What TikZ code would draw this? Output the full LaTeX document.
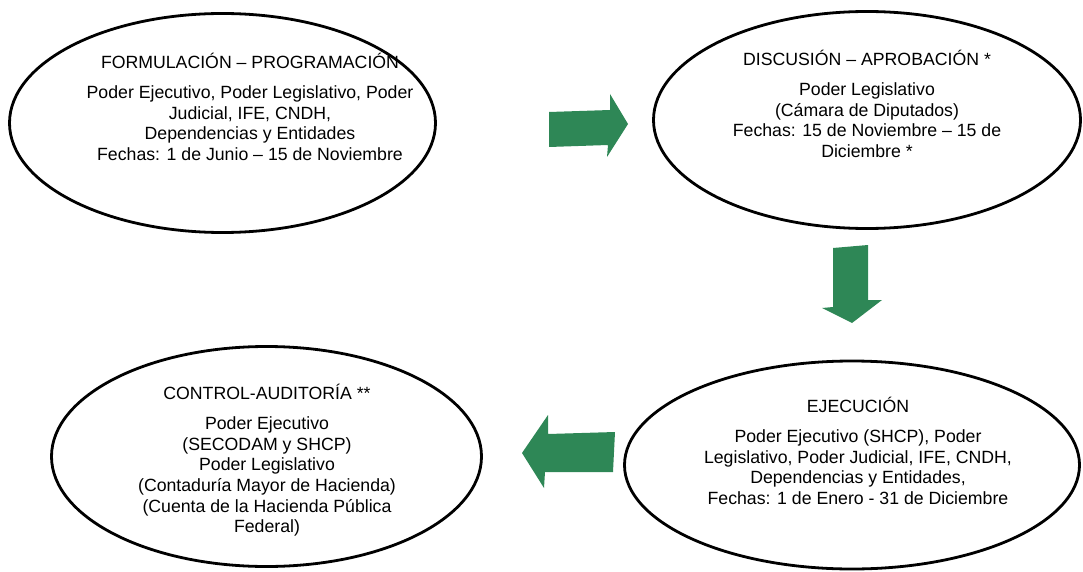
\documentclass[tikz,border=0pt]{standalone}
\usepackage{fontspec}
\setmainfont{Liberation Sans}
\usetikzlibrary{shapes.geometric}
\definecolor{agreen}{RGB}{46,135,86}
\begin{document}
\begin{tikzpicture}[x=1pt,y=-1pt,
  stage/.style={draw=black, line width=2.8pt, ellipse, inner sep=0pt},
  txt/.style={align=center, font=\fontsize{17.7}{20.7}\selectfont, inner sep=0pt},
  blockarrow/.style={fill=agreen, draw=none}]
\useasboundingbox (0,0) rectangle (1083,572);
% stages
\node[stage, minimum width=426pt, minimum height=219pt] (e1) at (222.5,123) {};
\node[stage, minimum width=427pt, minimum height=217pt] (e2) at (867,120) {};
\node[stage, minimum width=430pt, minimum height=220pt] (e3) at (266.5,456.5) {};
\node[stage, minimum width=455pt, minimum height=208pt] (e4) at (852,465) {};
% texts
\node[txt] (t1) at (250,107) {FORMULACIÓN – PROGRAMACIÓN\\[9pt]Poder Ejecutivo, Poder Legislativo, Poder\\Judicial, IFE, CNDH,\\Dependencias y Entidades\\Fechas: 1 de Junio – 15 de Noviembre};
\node[txt] (t2) at (867,104) {DISCUSIÓN – APROBACIÓN *\\[9pt]Poder Legislativo\\(Cámara de Diputados)\\Fechas: 15 de Noviembre – 15 de\\Diciembre *};
\node[txt] (t3) at (267,460.5) {CONTROL-AUDITORÍA **\\[9pt]Poder Ejecutivo\\(SECODAM y SHCP)\\Poder Legislativo\\(Contaduría Mayor de Hacienda)\\(Cuenta de la Hacienda Pública\\Federal)};
\node[txt] (t4) at (858,451) {EJECUCIÓN\\[9pt]Poder Ejecutivo (SHCP), Poder\\Legislativo, Poder Judicial, IFE, CNDH,\\Dependencias y Entidades,\\Fechas: 1 de Enero - 31 de Diciembre};
% block arrows
\fill[blockarrow] (549,112) -- (610,110) -- (610,94) -- (628,124) -- (607,157) -- (608,145) -- (549,147) -- cycle;
\fill[blockarrow] (833,248) -- (868,245) -- (868,300) -- (882,300) -- (852,323) -- (822,308) -- (833,307) -- cycle;
\fill[blockarrow] (615,432) -- (548,434) -- (548,415) -- (522,453) -- (544,488) -- (545,472) -- (613,472) -- cycle;
\end{tikzpicture}
\end{document}
